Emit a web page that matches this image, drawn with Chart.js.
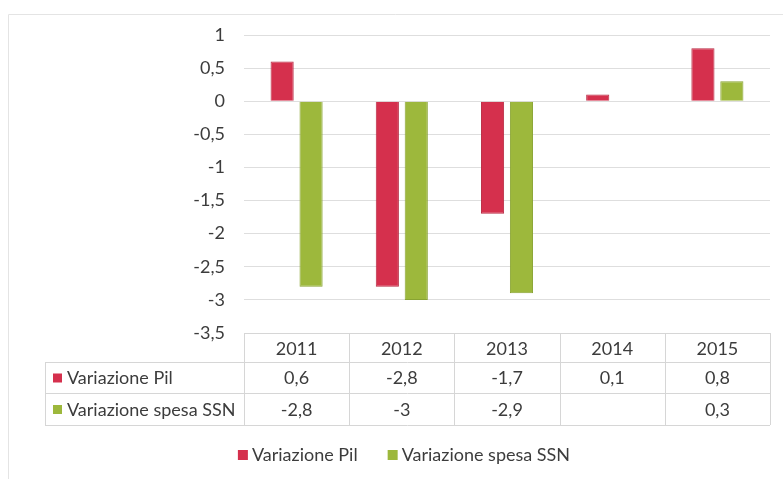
<!DOCTYPE html>
<html>
<head>
<meta charset="utf-8">
<script src="https://cdn.jsdelivr.net/npm/chart.js@4.4.1/dist/chart.umd.min.js"></script>
<style>
  html, body { margin: 0; padding: 0; background: #fff; }
  #wrap { position: relative; width: 783px; height: 479px; }
</style>
</head>
<body>
<div id="wrap"><canvas id="chart" width="783" height="479"></canvas></div>
<script>
// ── data ──
const years = ['2011', '2012', '2013', '2014', '2015'];
const pil = [0.6, -2.8, -1.7, 0.1, 0.8];
const ssn = [-2.8, -3, -2.9, null, 0.3];
const seriesNames = ['Variazione Pil', 'Variazione spesa SSN'];
const yTicks = [1, 0.5, 0, -0.5, -1, -1.5, -2, -2.5, -3, -3.5];

const colors = ['#d5304d', '#9db83c'];
const borders = ['#b82a43', '#88a332'];
const FAMILY = 'Lato, "Liberation Sans", sans-serif';
const FONT = '18px ' + FAMILY;
const TEXT = '#3c3c3c';
const LINE = '#d6d6d6';

const fmt = (v) => String(v).replace('.', ',');

// ── data table + legend + frame, drawn under the plot ──
const tablePlugin = {
  id: 'dataTable',
  afterDraw(chart) {
    const ctx = chart.ctx;
    const x = chart.scales.x;
    const area = chart.chartArea;
    const colW = (area.right - area.left) / years.length;
    const top = area.bottom;
    const rows = [top, top + 29, top + 60, top + 92];
    const headLeft = 45;

    ctx.save();
    // faint outer frame
    ctx.strokeStyle = '#e4e4e4';
    ctx.lineWidth = 1;
    ctx.beginPath();
    ctx.moveTo(8.5, 479);
    ctx.lineTo(8.5, 14.5);
    ctx.lineTo(783, 14.5);
    ctx.stroke();

    // table grid
    ctx.strokeStyle = LINE;
    ctx.beginPath();
    ctx.moveTo(area.left, rows[0] + 0.5);
    ctx.lineTo(area.right, rows[0] + 0.5);
    for (let r = 1; r < rows.length; r++) {
      ctx.moveTo(headLeft, rows[r] + 0.5);
      ctx.lineTo(area.right, rows[r] + 0.5);
    }
    ctx.moveTo(headLeft + 0.5, rows[1]);
    ctx.lineTo(headLeft + 0.5, rows[3]);
    for (let i = 0; i <= years.length; i++) {
      const px = Math.round(area.left + i * colW) + 0.5;
      ctx.moveTo(px, rows[0]);
      ctx.lineTo(px, rows[3]);
    }
    ctx.stroke();

    ctx.font = FONT;
    ctx.fillStyle = TEXT;
    ctx.textAlign = 'center';
    ctx.textBaseline = 'middle';
    years.forEach((yr, i) => {
      ctx.fillText(yr, x.getPixelForValue(i), (rows[0] + rows[1]) / 2 + 2);
    });
    [pil, ssn].forEach((series, s) => {
      const cy = (rows[s + 1] + rows[s + 2]) / 2 + 1;
      series.forEach((v, i) => {
        if (v !== null) ctx.fillText(fmt(v), x.getPixelForValue(i), cy);
      });
      ctx.fillStyle = colors[s];
      ctx.fillRect(53, cy - 5, 9, 9);
      ctx.fillStyle = TEXT;
      ctx.textAlign = 'left';
      ctx.fillText(seriesNames[s], 67, cy);
      ctx.textAlign = 'center';
    });

    // legend
    const ly = 455;
    const gap = 30;
    const w0 = ctx.measureText(seriesNames[0]).width;
    const w1 = ctx.measureText(seriesNames[1]).width;
    const total = 14 + w0 + gap + 14 + w1;
    let lx = 404 - total / 2;
    ctx.textAlign = 'left';
    [w0, w1].forEach((w, s) => {
      ctx.fillStyle = colors[s];
      ctx.fillRect(lx, ly - 5, 10, 10);
      ctx.fillStyle = TEXT;
      ctx.fillText(seriesNames[s], lx + 14, ly);
      lx += 14 + w + gap;
    });
    ctx.restore();
  }
};

new Chart(document.getElementById('chart'), {
  type: 'bar',
  data: {
    labels: years,
    datasets: [
      { label: seriesNames[0], data: pil, backgroundColor: colors[0], borderColor: borders[0], borderWidth: 1 },
      { label: seriesNames[1], data: ssn, backgroundColor: colors[1], borderColor: borders[1], borderWidth: 1 }
    ]
  },
  options: {
    responsive: false,
    animation: false,
    devicePixelRatio: 1,
    layout: { padding: { top: 35, right: 13, bottom: 146, left: 0 } },
    datasets: { bar: { categoryPercentage: 0.55, barPercentage: 0.8 } },
    plugins: { legend: { display: false }, tooltip: { enabled: false } },
    scales: {
      x: { display: false },
      y: {
        min: yTicks[yTicks.length - 1],
        max: yTicks[0],
        afterBuildTicks: (scale) => { scale.ticks = yTicks.map((v) => ({ value: v })); },
        afterFit: (scale) => { scale.width = 244; },
        border: { display: false },
        grid: { color: '#dedede', drawTicks: false },
        ticks: {
          padding: 19,
          color: TEXT,
          font: { family: FAMILY, size: 18 },
          callback: (v) => fmt(v)
        }
      }
    }
  },
  plugins: [tablePlugin]
});
</script>
</body>
</html>
